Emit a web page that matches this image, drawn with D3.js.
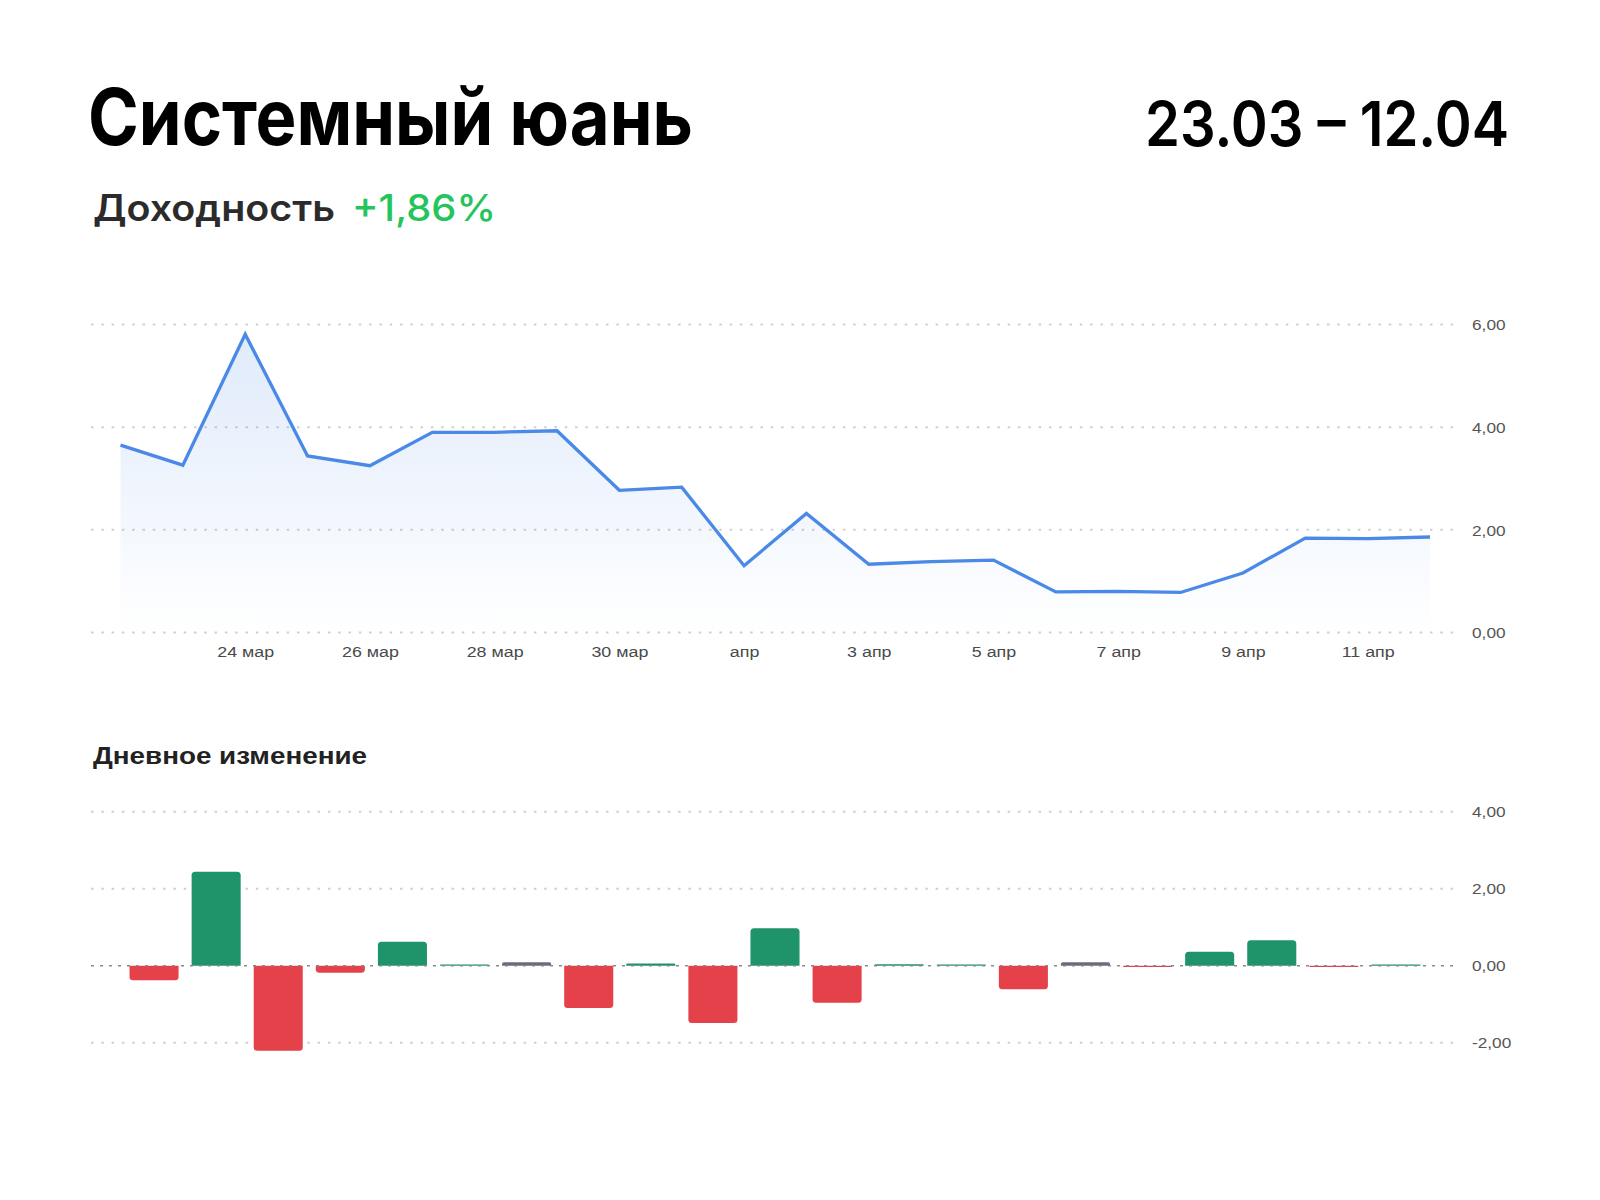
<!DOCTYPE html>
<html>
<head>
<meta charset="utf-8">
<script src="https://cdn.jsdelivr.net/npm/d3@7"></script>
<style>
  html, body { margin: 0; padding: 0; background: #ffffff; }
  svg { display: block; }
</style>
</head>
<body>
<svg id="chart" width="1600" height="1200"></svg>
<script>
// ---------- DATA ----------
const titleText = "Системный юань";
const periodText = "23.03 – 12.04";
const yieldLabel = "Доходность";
const yieldValue = "+1,86%";
const barTitle = "Дневное изменение";

const lineDates = ["2025-03-22","2025-03-23","2025-03-24","2025-03-25","2025-03-26","2025-03-27",
  "2025-03-28","2025-03-29","2025-03-30","2025-03-31","2025-04-01","2025-04-02","2025-04-03",
  "2025-04-04","2025-04-05","2025-04-06","2025-04-07","2025-04-08","2025-04-09","2025-04-10",
  "2025-04-11","2025-04-12"];
const lineValues = [3.65, 3.26, 5.81, 3.44, 3.25, 3.90, 3.90, 3.93, 2.77, 2.83, 1.30, 2.32, 1.33,
  1.38, 1.41, 0.79, 0.80, 0.78, 1.16, 1.84, 1.83, 1.86];

const barDates = ["2025-03-23","2025-03-24","2025-03-25","2025-03-26","2025-03-27","2025-03-28",
  "2025-03-29","2025-03-30","2025-03-31","2025-04-01","2025-04-02","2025-04-03","2025-04-04",
  "2025-04-05","2025-04-06","2025-04-07","2025-04-08","2025-04-09","2025-04-10","2025-04-11",
  "2025-04-12"];
const barValues = [-0.38, 2.44, -2.21, -0.18, 0.62, 0.02, 0.09, -1.10, 0.06, -1.49, 0.97, -0.96,
  0.04, 0.02, -0.61, 0.09, -0.03, 0.36, 0.66, -0.02, 0.03];
const neutralBarDates = ["2025-03-29", "2025-04-07"];

const xTickDates = ["2025-03-24","2025-03-26","2025-03-28","2025-03-30","2025-04-01",
  "2025-04-03","2025-04-05","2025-04-07","2025-04-09","2025-04-11"];
const xTickLabels = ["24 мар","26 мар","28 мар","30 мар","апр","3 апр","5 апр","7 апр","9 апр","11 апр"];
const lineYTicks = [0, 2, 4, 6];
const barYTicks = [-2, 0, 2, 4];

// ---------- SETUP ----------
const parse = d3.utcParse("%Y-%m-%d");
const svg = d3.select("#chart");
const fmt = v => v.toFixed(2).replace(".", ",");
const TXT_SCALE = 1.19;

// Headings
svg.append("text").attr("x", 88).attr("y", 145)
  .attr("font-family", "Inter, 'Noto Sans', sans-serif").attr("font-weight", 700)
  .attr("font-size", 78).attr("fill", "#000")
  .attr("textLength", 605).attr("lengthAdjust", "spacingAndGlyphs")
  .text(titleText);
svg.append("text").attr("x", 1145).attr("y", 146)
  .attr("font-family", "Inter, 'Noto Sans', sans-serif").attr("font-weight", 600)
  .attr("font-size", 62).attr("fill", "#000")
  .attr("textLength", 364).attr("lengthAdjust", "spacingAndGlyphs")
  .text(periodText);
svg.append("text").attr("x", 93).attr("y", 221)
  .attr("font-family", "Inter, 'Noto Sans', sans-serif").attr("font-weight", 600)
  .attr("font-size", 37).attr("fill", "#2b2b2b")
  .attr("textLength", 242).attr("lengthAdjust", "spacingAndGlyphs")
  .text(yieldLabel);
svg.append("text").attr("x", 352).attr("y", 221)
  .attr("font-family", "Inter, 'Noto Sans', sans-serif").attr("font-weight", 500)
  .attr("font-size", 37).attr("fill", "#25c45c")
  .attr("textLength", 144).attr("lengthAdjust", "spacingAndGlyphs")
  .text(yieldValue);

// ---------- LINE CHART ----------
const lineData = lineDates.map((d, i) => ({ date: parse(d), value: lineValues[i] }));
const x = d3.scaleUtc().domain(d3.extent(lineData, d => d.date)).range([120.5, 1430]);
const y = d3.scaleLinear().domain([0, 6]).range([632.5, 324.5]);
const gridX0 = 91, gridX1 = 1454, labelX = 1472;

const defs = svg.append("defs");
const grad = defs.append("linearGradient").attr("id", "areaGrad")
  .attr("gradientUnits", "userSpaceOnUse")
  .attr("x1", 0).attr("x2", 0).attr("y1", y(6)).attr("y2", y(0));
grad.append("stop").attr("offset", "0%").attr("stop-color", "#4a89e6").attr("stop-opacity", 0.18);
grad.append("stop").attr("offset", "100%").attr("stop-color", "#4a89e6").attr("stop-opacity", 0.0);

const gLine = svg.append("g");
gLine.selectAll("line.grid").data(lineYTicks).join("line").attr("class", "grid")
  .attr("x1", gridX0).attr("x2", gridX1)
  .attr("y1", d => y(d)).attr("y2", d => y(d))
  .attr("stroke", "#cfcfcf").attr("stroke-width", 2).attr("stroke-dasharray", "2.5 7.8");

gLine.append("path").datum(lineData)
  .attr("fill", "url(#areaGrad)")
  .attr("d", d3.area().x(d => x(d.date)).y0(y(0)).y1(d => y(d.value)));
gLine.append("path").datum(lineData)
  .attr("fill", "none").attr("stroke", "#4a89e6").attr("stroke-width", 3.3)
  .attr("stroke-linejoin", "miter")
  .attr("d", d3.line().x(d => x(d.date)).y(d => y(d.value)));

// x axis
const xAxis = d3.axisBottom(x).tickValues(xTickDates.map(parse))
  .tickFormat((d, i) => xTickLabels[i]).tickSize(0).tickPadding(0);
const gx = svg.append("g").attr("transform", "translate(0,646)").call(xAxis);
gx.select(".domain").remove();
gx.selectAll("text").attr("y", 0).attr("dy", "0.72em")
  .attr("font-family", "'Liberation Sans', Arial, sans-serif").attr("font-size", 15)
  .attr("fill", "#4a4a4a").attr("transform", `scale(${TXT_SCALE},1)`);

// y axis
const yAxis = d3.axisRight(y).tickValues(lineYTicks).tickFormat(fmt).tickSize(0).tickPadding(0);
const gy = svg.append("g").attr("transform", `translate(${labelX},0)`).call(yAxis);
gy.select(".domain").remove();
gy.selectAll("text").attr("x", 0).attr("dy", "0.36em")
  .attr("font-family", "'Liberation Sans', Arial, sans-serif").attr("font-size", 14.5)
  .attr("fill", "#555").attr("transform", `scale(${TXT_SCALE},1)`);

// ---------- BAR CHART ----------
svg.append("text").attr("x", 93).attr("y", 764)
  .attr("font-family", "'Liberation Sans', Arial, sans-serif").attr("font-weight", 700)
  .attr("font-size", 23).attr("fill", "#222")
  .attr("textLength", 274).attr("lengthAdjust", "spacingAndGlyphs")
  .text(barTitle);

const barData = barDates.map((d, i) => ({ key: d, value: barValues[i], neutral: neutralBarDates.includes(d) }));
const xb = d3.scaleBand().domain(barDates).range([123, 1427]).paddingInner(0.21).paddingOuter(0.105);
const yb = d3.scaleLinear().domain([-2, 4]).range([1042.7, 811.7]);

const gBar = svg.append("g");
gBar.selectAll("line.grid").data(barYTicks.filter(t => t !== 0)).join("line").attr("class", "grid")
  .attr("x1", gridX0).attr("x2", gridX1)
  .attr("y1", d => yb(d)).attr("y2", d => yb(d))
  .attr("stroke", "#cfcfcf").attr("stroke-width", 2).attr("stroke-dasharray", "2.5 7.8");

function barPath(d) {
  const x0 = xb(d.key), w = xb.bandwidth();
  const y0 = yb(0);
  let y1 = yb(d.value);
  if (Math.abs(y1 - y0) < 1.2) y1 = y0 + (d.value >= 0 ? -1.2 : 1.2);
  const h = Math.abs(y1 - y0);
  const r = Math.min(3.5, h / 2, w / 2);
  if (d.value >= 0) {
    return `M${x0},${y0}V${y1 + r}Q${x0},${y1} ${x0 + r},${y1}H${x0 + w - r}Q${x0 + w},${y1} ${x0 + w},${y1 + r}V${y0}Z`;
  } else {
    return `M${x0},${y0}V${y1 - r}Q${x0},${y1} ${x0 + r},${y1}H${x0 + w - r}Q${x0 + w},${y1} ${x0 + w},${y1 - r}V${y0}Z`;
  }
}
gBar.selectAll("path.bar").data(barData).join("path").attr("class", "bar")
  .attr("d", barPath)
  .attr("fill", d => d.neutral ? "#6c6b7d" : (d.value >= 0 ? "#1f936a" : "#e5414a"));

// zero line on top
gBar.append("line")
  .attr("x1", gridX0).attr("x2", gridX1).attr("y1", yb(0)).attr("y2", yb(0))
  .attr("stroke", "#8a8a8a").attr("stroke-width", 1.6).attr("stroke-dasharray", "3 6");

const ybAxis = d3.axisRight(yb).tickValues(barYTicks).tickFormat(fmt).tickSize(0).tickPadding(0);
const gyb = svg.append("g").attr("transform", `translate(${labelX},0)`).call(ybAxis);
gyb.select(".domain").remove();
gyb.selectAll("text").attr("x", 0).attr("dy", "0.36em")
  .attr("font-family", "'Liberation Sans', Arial, sans-serif").attr("font-size", 14.5)
  .attr("fill", "#555").attr("transform", `scale(${TXT_SCALE},1)`);
</script>
</body>
</html>
